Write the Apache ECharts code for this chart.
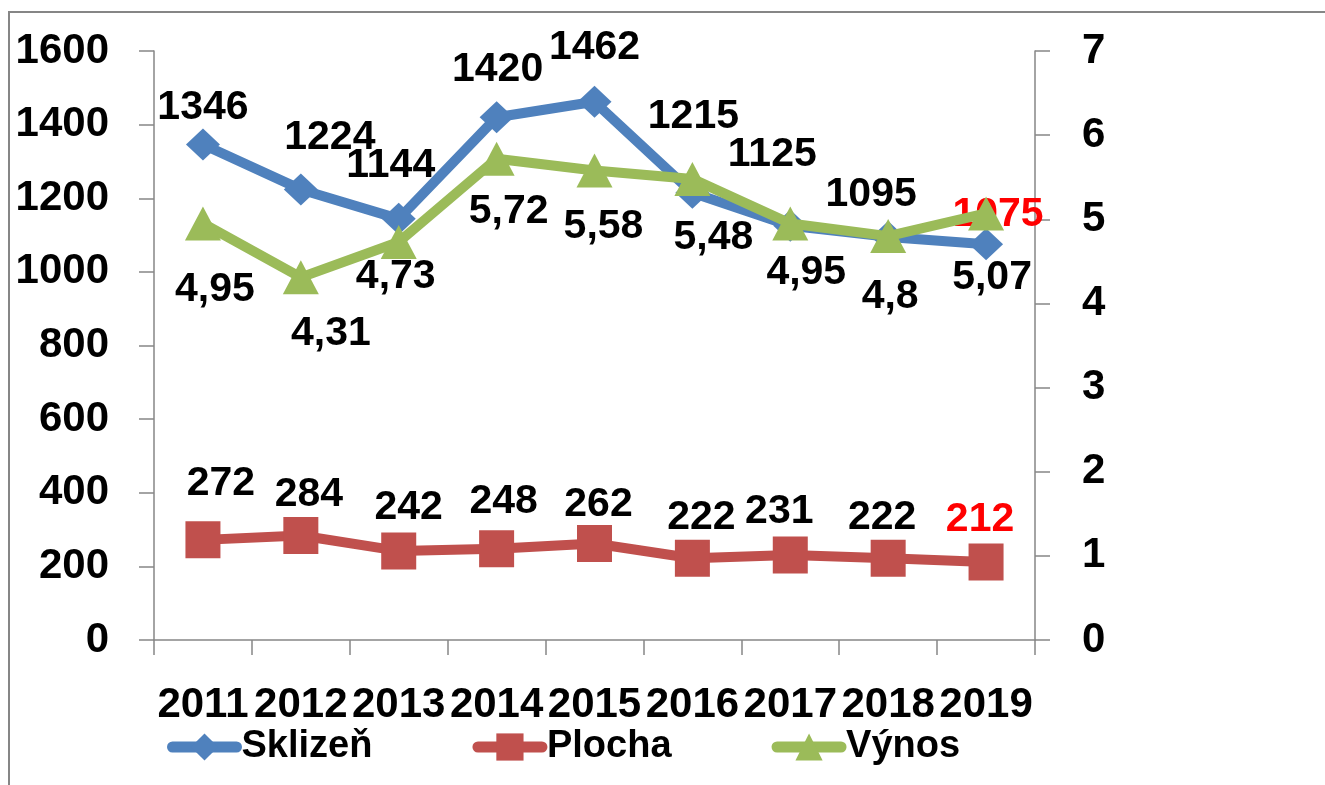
<!DOCTYPE html>
<html>
<head>
<meta charset="utf-8">
<script src="https://cdn.jsdelivr.net/npm/echarts@6/dist/echarts.min.js"></script>
<style>
html,body{margin:0;padding:0;background:#fff;}
#chart{width:1325px;height:785px;}
</style>
</head>
<body>
<div id="chart"></div>
<script>
// ---- data ----
const years = ['2011','2012','2013','2014','2015','2016','2017','2018','2019'];
const sklizen = [1346, 1224, 1144, 1420, 1462, 1215, 1125, 1095, 1075];
const plocha = [272, 284, 242, 248, 262, 222, 231, 222, 212];
const vynos = [4.95, 4.31, 4.73, 5.72, 5.58, 5.48, 4.95, 4.8, 5.07];
const seriesNames = ['Sklizeň', 'Plocha', 'Výnos'];
const leftTicks = { min: 0, max: 1600, step: 200 };
const rightTicks = { min: 0, max: 7, step: 1 };

// ---- label layout (offsets from each point, px) ----
const sklizenLabelOffsets = [[0,-37],[29,-52],[-8,-53],[1,-48],[0,-54],[1,-76],[-18,-71],[-17,-42],[12,-30]];
const plochaLabelOffsets = [[18,-56],[8,-41],[10,-43],[7,-47],[4,-39],[9,-41],[-11,-43],[-6,-41],[-6,-42]];
const vynosLabelOffsets = [[12,66],[30,56],[-3,35],[12,53],[9,56],[21,59],[16,49],[2,61],[6,64]];
const highlightLast = true;

const FONT = '"Liberation Sans", Arial, sans-serif';
const BLUE = '#4F81BD', RED = '#C0504D', GREEN = '#9BBB59', AXIS = '#868686';

function fmtComma(v){ return String(v).replace('.', ','); }

function buildData(values, offsets, fmt){
  return values.map((v, i) => {
    const isLast = highlightLast && i === values.length - 1;
    return {
      value: v,
      label: {
        offset: offsets[i],
        color: isLast && fmt === null ? '#FF0000' : '#000',
        formatter: fmt ? fmt(v) : String(v)
      }
    };
  });
}

const chart = echarts.init(document.getElementById('chart'), null, {renderer: 'canvas'});

const labelBase = {
  show: true,
  position: 'inside',
  fontFamily: FONT,
  fontWeight: 'bold',
  fontSize: 41,
  align: 'center',
  verticalAlign: 'middle'
};

const axisLabelBase = { fontFamily: FONT, fontWeight: 'bold', fontSize: 42, color: '#000', formatter: v => String(v) };

const option = {
  animation: false,
  backgroundColor: '#fff',
  graphic: [{
    type: 'rect',
    shape: { x: 9, y: 12, width: 1400, height: 900 },
    style: { fill: 'none', stroke: AXIS, lineWidth: 2 },
    silent: true,
    z: -10
  }],
  grid: { left: 154, right: 290, top: 51, bottom: 145 },
  legend: {
    left: 167,
    top: 728,
    padding: 0,
    itemWidth: 64,
    itemHeight: 34,
    itemGap: 100,
    lineStyle: { width: 11, cap: 'round' },
    textStyle: { fontFamily: FONT, fontWeight: 'bold', fontSize: 38, color: '#000' },
    data: seriesNames
  },
  xAxis: {
    type: 'category',
    data: years,
    boundaryGap: true,
    axisLine: { show: true, lineStyle: { color: AXIS, width: 1.5 } },
    axisTick: { show: true, length: 15, lineStyle: { color: AXIS, width: 1.5 } },
    axisLabel: Object.assign({}, axisLabelBase, { interval: 0, margin: 44 }),
    splitLine: { show: false }
  },
  yAxis: [{
    type: 'value',
    position: 'left',
    min: leftTicks.min, max: leftTicks.max, interval: leftTicks.step,
    axisLine: { show: true, lineStyle: { color: AXIS, width: 1.5 } },
    axisTick: { show: true, length: 15, lineStyle: { color: AXIS, width: 1.5 } },
    axisLabel: Object.assign({}, axisLabelBase, { margin: 45 }),
    splitLine: { show: false }
  }, {
    type: 'value',
    position: 'right',
    min: rightTicks.min, max: rightTicks.max, interval: rightTicks.step,
    axisLine: { show: true, lineStyle: { color: AXIS, width: 1.5 } },
    axisTick: { show: true, length: 15, lineStyle: { color: AXIS, width: 1.5 } },
    axisLabel: Object.assign({}, axisLabelBase, { margin: 47 }),
    splitLine: { show: false }
  }],
  series: [{
    name: seriesNames[0],
    type: 'line',
    yAxisIndex: 0,
    data: buildData(sklizen, sklizenLabelOffsets, null),
    symbol: 'diamond',
    symbolSize: [34, 32],
    itemStyle: { color: BLUE },
    lineStyle: { color: BLUE, width: 10 },
    label: labelBase,
    z: 2
  }, {
    name: seriesNames[1],
    type: 'line',
    yAxisIndex: 0,
    data: buildData(plocha, plochaLabelOffsets, null),
    symbol: 'rect',
    symbolSize: [35, 37],
    itemStyle: { color: RED },
    lineStyle: { color: RED, width: 10 },
    label: labelBase,
    z: 3
  }, {
    name: seriesNames[2],
    type: 'line',
    yAxisIndex: 1,
    data: buildData(vynos, vynosLabelOffsets, fmtComma),
    symbol: 'triangle',
    symbolSize: [36, 34],
    itemStyle: { color: GREEN },
    lineStyle: { color: GREEN, width: 10 },
    label: labelBase,
    z: 4
  }]
};

chart.setOption(option);
</script>
</body>
</html>
